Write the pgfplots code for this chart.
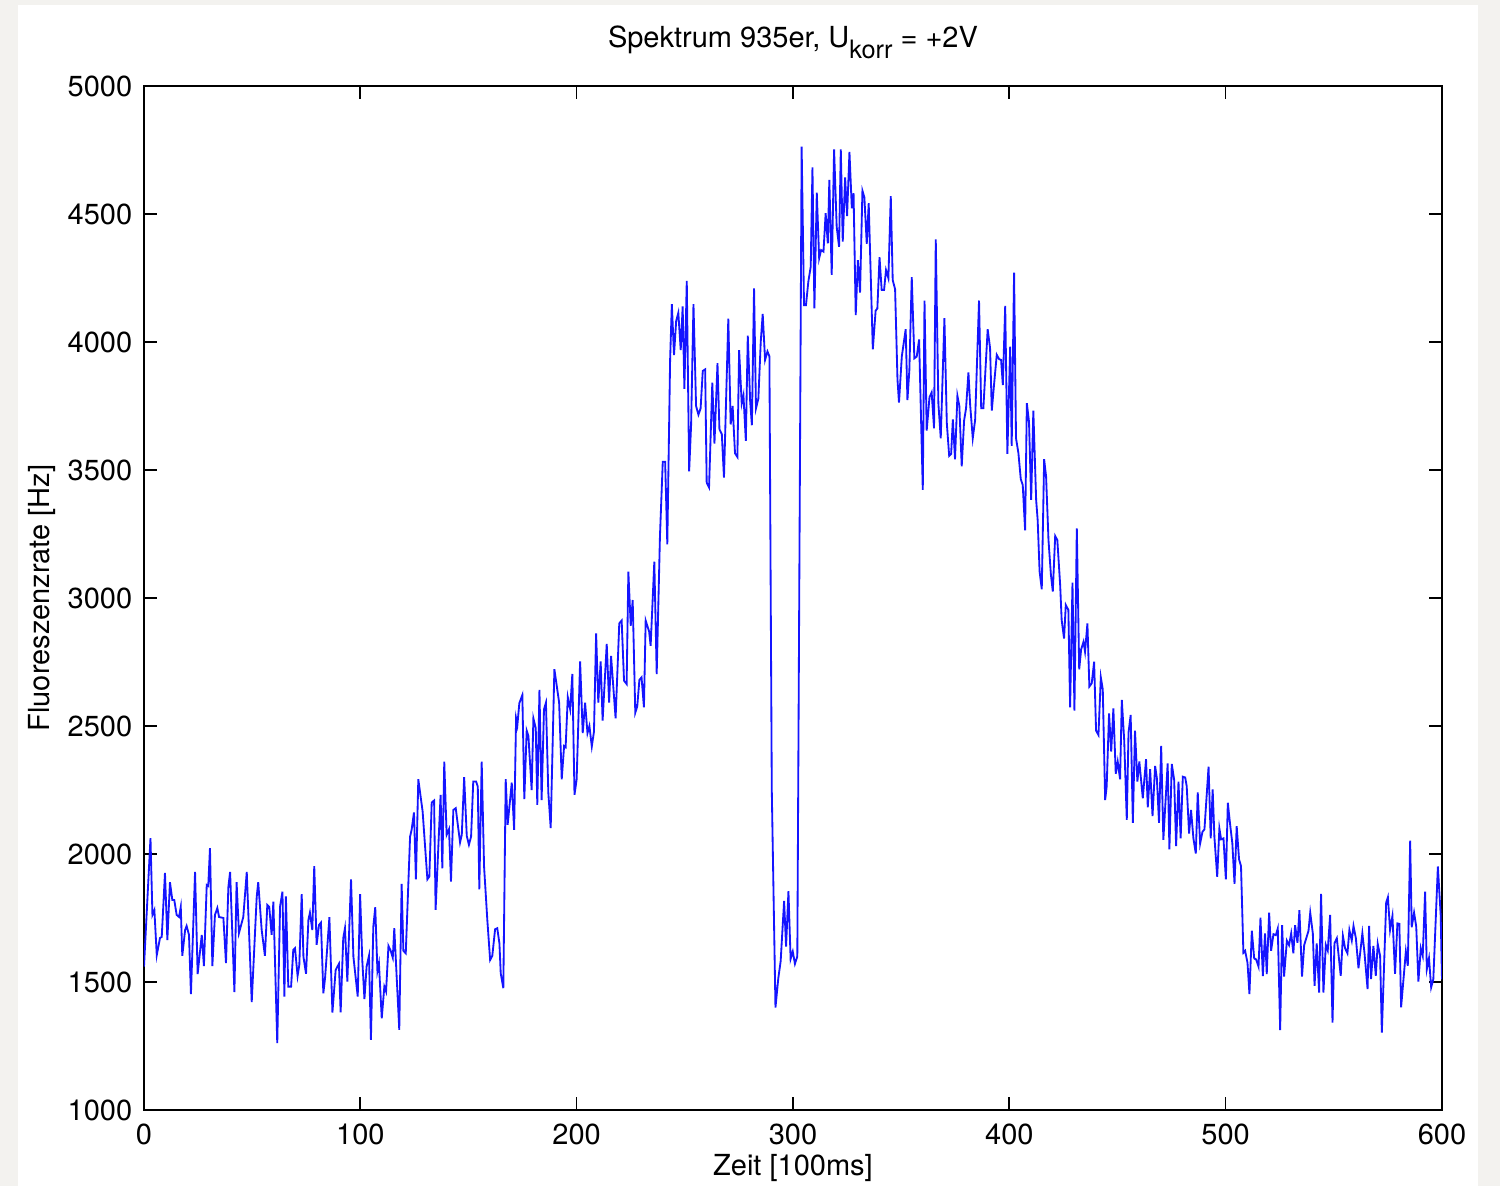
\documentclass[border=0pt]{standalone}
\usepackage{pgfplots}
\pgfplotsset{compat=1.18}
\usepackage{fontspec}
\setmainfont{TeX Gyre Heros}
\definecolor{figbg}{RGB}{243,242,239}
\definecolor{mblue}{RGB}{20,20,255}
\begin{document}
\begin{tikzpicture}
\useasboundingbox (-43.2pt,-22.8pt) rectangle (406.8pt,333pt);
\fill[figbg] (-43.2pt,-22.8pt) rectangle (406.8pt,333pt);
\fill[white] (-37.8pt,-22.8pt) rectangle (400.2pt,331.5pt);
\begin{axis}[
  scale only axis,
  width=389.4pt, height=307.2pt,
  xmin=0, xmax=600, ymin=1000, ymax=5000,
  xtick={0,100,...,600}, ytick={1000,1500,...,5000},
  tick pos=both, tick align=inside,
  major tick length=4pt,
  axis line style={line width=0.5pt},
  every tick/.style={black, line width=0.5pt},
  scaled ticks=false,
  /pgf/number format/1000 sep={},
  /pgf/number format/assume math mode=true,
  font=\fontsize{8.7}{10}\selectfont,
  ticklabel style={font=\fontsize{8.7}{10}\selectfont},
  xticklabel style={yshift=-0.5pt},
  every axis title shift=0pt,
  title={Spektrum 935er, U\raisebox{-3.4pt}{\fontsize{7.6}{8}\selectfont korr} = +2V},
  title style={at={(axis description cs:0.5,1.0423)}, anchor=center, font=\fontsize{8.7}{10}\selectfont},
  xlabel={Zeit [100ms]},
  xlabel style={at={(axis description cs:0.5,-0.0566)}, anchor=center},
  ylabel={Fluoreszenzrate [Hz]},
  ylabel style={at={(axis description cs:-0.0786,0.5)}, anchor=center},
]
\addplot[mblue, line width=0.55pt] table {
x y
0 1560
3 2062
3.9 1762
4.8 1781
5.9 1605
7.4 1672
8.2 1676
9.7 1926
10.8 1664
12 1890
13.1 1820
14 1820
15.1 1762
16.2 1754
17 1793
17.7 1602
19 1703
19.7 1719
20.8 1684
21.7 1453
23.6 1930
24.8 1531
26.7 1684
27.7 1562
29 1879
29.7 1875
30.5 2023
31.6 1562
32.8 1762
33.9 1789
34.7 1754
36.7 1750
37.9 1574
39 1871
39.8 1930
41.8 1461
42.8 1890
43.9 1691
45.9 1754
47.5 1930
49.8 1422
52.1 1832
52.8 1890
54.4 1703
55.9 1602
57 1801
57.9 1793
59 1684
59.8 1814
61.6 1261
62.9 1795
64 1853
64.9 1443
65.6 1834
66.7 1482
68 1482
69 1625
69.8 1632
71 1524
71.8 1567
72.9 1843
73.7 1599
74.9 1532
76 1742
76.7 1771
77.8 1703
78.7 1953
79.8 1645
80.9 1723
81.8 1732
82.9 1456
83.7 1515
85.7 1753
87.1 1381
88.6 1547
90.1 1571
90.9 1381
92.1 1671
92.9 1710
94 1502
95.7 1901
96.8 1599
98.8 1443
99.9 1843
100.9 1586
101.9 1433
102.9 1560
104 1602
104.9 1274
106 1716
106.9 1792
107.9 1543
108.6 1573
109.9 1358
111.1 1482
111.9 1463
113 1641
114 1623
115 1595
115.7 1710
118 1313
119.1 1883
119.9 1622
121 1612
123 2068
123.7 2094
124.8 2162
125.7 1901
126.8 2292
128.8 2166
131 1901
131.9 1912
133 2201
134.1 2209
134.8 1782
137.1 2231
137.9 1944
138.8 2361
139.9 2075
141 2097
141.9 1892
143 2172
144.1 2179
146.1 2045
146.9 2075
148 2300
149.2 2071
150.2 2036
151.2 2068
152.2 2283
153.5 2283
154.3 2263
155 1862
156.1 2361
157.2 1951
158.7 1743
160 1586
161 1602
162.3 1706
163.3 1710
164.3 1651
164.9 1534
166.1 1476
167.2 2292
168.1 2114
170 2279
171.1 2094
172 2530
172.6 2504
173.5 2589
174.9 2621
175.8 2214
176.9 2482
177.7 2461
179.2 2250
180 2530
181.1 2491
181.8 2192
182.8 2641
183.8 2211
184.9 2565
185.8 2591
186.9 2240
188 2101
189.7 2722
191.9 2591
193.1 2292
194.2 2422
194.9 2417
195.9 2612
197 2565
198 2703
199 2231
200 2292
201.6 2752
202.8 2472
203.9 2591
205 2472
205.9 2500
207 2420
208 2478
209 2862
210 2591
211.1 2752
212 2521
213.9 2821
215 2591
215.9 2774
218 2530
219.7 2901
220.8 2912
221.9 2677
223.1 2664
223.9 3103
225 2891
225.9 2992
227.1 2552
228 2576
229 2680
230 2690
231.1 2573
231.9 2912
233.5 2869
234.2 2813
235.9 3142
237 2703
238.5 3240
239.8 3532
240.9 3532
241.9 3210
243.2 3930
244 4148
245 3949
246 4082
247 4114
248.1 3968
249 4139
249.8 3817
250.9 4239
252 3495
252.9 3675
254 4148
255.2 3750
256.3 3716
257.3 3741
258.3 3887
259.4 3893
260.1 3451
261.2 3432
262.7 3841
263.7 3603
265.1 3917
266 3659
267.1 3640
268.1 3470
270.1 4091
271.2 3678
272.1 3750
273.2 3565
274.3 3551
275.1 3968
276.3 3760
277.1 3792
278.2 3614
279.1 4025
280.2 3769
281 3675
282 4209
282.9 3741
284 3779
285.1 4001
286 4110
287.1 3930
288.2 3963
289.1 3944
290.2 2250
291.9 1400
293.2 1514
294.3 1581
295.9 1817
296.8 1638
297.9 1855
298.9 1590
299.9 1619
300.9 1571
302 1600
304 4763
305.1 4144
306 4144
307.1 4236
308.2 4294
309 4682
309.9 4131
311 4583
312.1 4327
313 4359
314.1 4353
315.1 4503
316.1 4385
316.8 4633
317.9 4262
319 4752
320.2 4450
321.3 4372
322.1 4752
323 4392
324.1 4643
325 4492
326.1 4743
327.2 4522
328 4581
329 4105
330 4320
331 4193
332.1 4591
333 4565
334.1 4383
335 4542
336.9 3971
338.2 4122
339 4131
340 4331
341 4203
342.1 4203
343 4281
344.1 4249
345.2 4570
346.1 4242
347.2 4206
348.3 3854
349 3763
350.3 3943
352.1 4050
352.9 3773
353.8 3891
354.9 4253
356.1 3936
357.2 3943
358.3 4010
360 3422
360.8 4162
361.8 3654
363.1 3784
364.1 3803
365.2 3663
366 4401
367.2 3761
368.3 3624
370 4093
371.1 3685
372.2 3555
373.1 3563
373.9 3698
374.9 3542
376 3790
376.9 3750
378 3514
379.1 3693
380 3741
381.1 3881
381.9 3754
383.1 3624
384.2 3696
386 4162
387 3741
388 3741
390 4050
391.1 3976
391.9 3732
393 3839
394.2 3950
395.3 3933
396.2 3930
397 3832
398.1 4141
399.1 3563
400.4 3982
401.1 3594
402.2 4271
403.1 3624
404.2 3566
405.3 3464
406.2 3442
407.3 3264
408.1 3761
409.1 3689
410.1 3383
411.1 3732
412.4 3383
413.1 3305
414 3103
415 3034
416.1 3542
417 3474
418.1 3227
419.2 3094
420.1 3025
421.2 3242
422.2 3226
423.5 3051
424.2 2914
425.3 2842
426.1 2973
427.3 2953
428.1 2573
429.2 3060
430.1 2560
431.2 3272
432.3 2721
433.2 2799
434.3 2829
435 2790
436.1 2901
437 2654
438.1 2667
439.2 2751
440.1 2482
441.2 2465
442.3 2690
443.2 2643
444.3 2211
445 2263
446.1 2549
447.1 2400
448.1 2569
449.2 2313
450.1 2361
451.2 2292
452 2602
453.1 2445
454.3 2133
455.1 2474
456.1 2543
457.1 2122
458.1 2482
459.2 2283
460.1 2361
461.7 2218
463.2 2370
464 2182
465.1 2331
466.2 2148
467.4 2344
468.2 2296
469.2 2122
470.2 2422
471.2 2055
473.2 2354
474 2018
475.1 2352
476.2 2289
477.1 2031
478.2 2283
479.2 2061
480.2 2302
481.3 2299
482 2265
483.1 2080
484 2172
485.1 2061
486.2 2002
487.1 2241
488.2 2041
489.3 2087
490.2 2096
492.1 2341
493.1 2061
494 2252
494.8 2067
496.1 1911
497.1 2100
497.9 2057
499 2061
500.1 1901
501 2200
502.1 2113
503.1 2041
504.1 1883
505.1 2109
506.2 1979
507.1 1953
508.2 1614
509 1622
510.1 1575
511 1453
512.1 1700
513.2 1592
514.1 1588
515.2 1560
516.1 1751
517.2 1523
518.2 1690
519 1531
520.1 1771
521 1622
522.1 1687
523.2 1683
524.1 1709
525.2 1312
526.1 1722
527 1521
528.3 1661
529.3 1644
530.3 1690
531.3 1612
532.1 1722
533.2 1653
534.1 1781
535.3 1521
536.3 1644
538.3 1700
539.1 1771
540.3 1690
541.1 1485
542.1 1651
543.2 1459
544.1 1844
545.2 1459
546.3 1645
547.2 1623
548.3 1762
549.4 1341
550.3 1651
551.4 1671
553.2 1524
554.2 1680
555.2 1632
556.3 1612
557.2 1703
558.3 1662
559.1 1719
560.2 1671
561.4 1554
563.2 1690
564.2 1612
565.6 1472
566.3 1719
567.2 1511
568.3 1641
569.4 1524
570.3 1649
571.4 1602
572.2 1302
574.2 1810
575 1831
576 1703
577.1 1758
578.3 1532
579.4 1729
580.3 1727
581.1 1401
583.3 1619
584.2 1563
585.3 2052
586 1714
587.1 1771
588.1 1716
589.1 1502
590.2 1632
591.1 1602
592.2 1853
593 1550
594 1593
595 1479
596 1511
598.1 1951
599.4 1762
600 1510
};
\end{axis}
\end{tikzpicture}
\end{document}
